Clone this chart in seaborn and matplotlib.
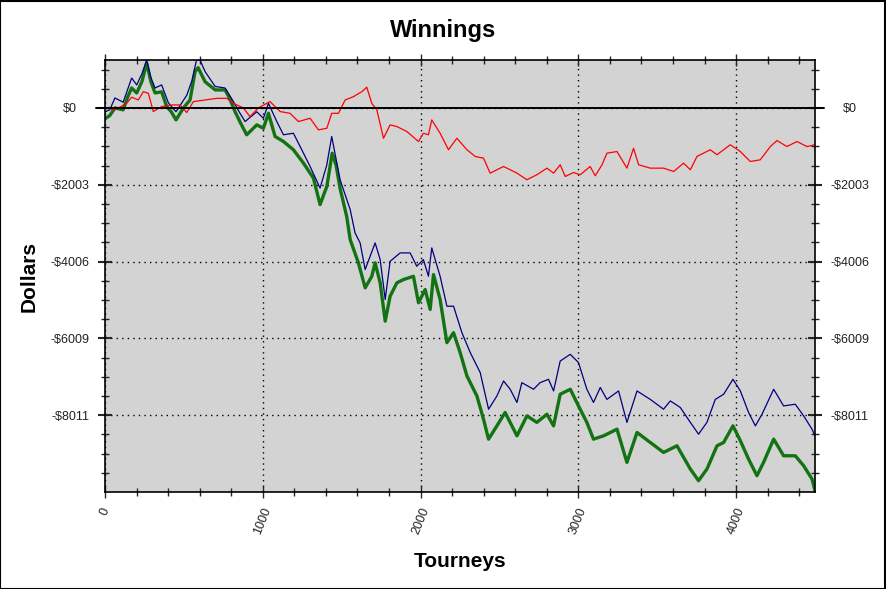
import numpy as np
import pandas as pd
import matplotlib
matplotlib.use("Agg")
import matplotlib.pyplot as plt
import seaborn as sns
from matplotlib.ticker import FixedLocator, MultipleLocator
from matplotlib.patches import Rectangle

# winnings curves (tourney number, dollars)
green_t = [0, 30, 63, 115, 145, 169, 201, 235, 264, 290, 317, 359, 391, 420, 450, 497, 539, 571, 590,
           634, 698, 761, 790, 824, 860, 898, 962, 1004, 1036, 1078, 1131, 1194, 1258, 1321, 1363, 1406,
           1440, 1465, 1490, 1532, 1554, 1606, 1649, 1691, 1712, 1744, 1776, 1807, 1850, 1892, 1955, 1987,
           2029, 2061, 2082, 2124, 2167, 2209, 2251, 2294, 2357, 2399, 2431, 2484, 2536, 2611, 2674, 2737,
           2801, 2843, 2885, 2949, 3001, 3054, 3096, 3160, 3245, 3308, 3372, 3456, 3540, 3625, 3710, 3762,
           3815, 3879, 3921, 3980, 4027, 4079, 4132, 4174, 4238, 4301, 4375, 4428, 4481, 4500]
green_usd = [-280, -200, 0, -50, 300, 520, 390, 700, 1170, 700, 390, 420, 35, -100, -312, 0, 208, 945, 1050,
             685, 470, 470, 250, -95, -400, -700, -442, -530, -140, -745, -875, -1090, -1440, -1830, -2520, -2047,
             -1180, -1500, -2100, -2830, -3434, -4040, -4690, -4390, -4040, -4560, -5560, -4910, -4560, -4475, -4390, -5080,
             -4735, -5255, -4345, -4995, -6120, -5860, -6380, -6990, -7510, -8116, -8637, -8290, -7942, -8550, -8030, -8200,
             -7987, -8290, -7466, -7336, -7770, -8200, -8637, -8550, -8377, -9243, -8463, -8723, -8983, -8810, -9417, -9720,
             -9417, -8810, -8723, -8290, -8680, -9157, -9590, -9243, -8637, -9070, -9070, -9330, -9677, -9980]

blue_t = [0, 30, 63, 115, 145, 169, 201, 235, 264, 290, 317, 359, 402, 450, 518, 550, 580, 602, 634, 698,
          761, 814, 850, 888, 962, 1004, 1036, 1089, 1131, 1194, 1236, 1300, 1363, 1405, 1437, 1490, 1554,
          1585, 1617, 1649, 1712, 1744, 1776, 1807, 1871, 1934, 1976, 2018, 2050, 2071, 2124, 2167, 2209,
          2262, 2315, 2378, 2431, 2484, 2526, 2568, 2611, 2642, 2716, 2758, 2811, 2843, 2885, 2949, 3001,
          3054, 3096, 3139, 3181, 3255, 3308, 3372, 3456, 3540, 3583, 3646, 3710, 3762, 3815, 3868, 3921,
          3980, 4027, 4079, 4122, 4164, 4238, 4301, 4375, 4428, 4481, 4500]
blue_usd = [-100, -50, 260, 150, 500, 780, 600, 900, 1250, 800, 520, 600, 130, -100, 330, 700, 1250, 1250, 950, 560,
            520, 165, -100, -355, -100, -270, 120, -355, -700, -660, -1000, -1527, -2090, -1500, -745, -1873, -2650,
            -3260, -3520, -4215, -3520, -3954, -4995, -4000, -3780, -3780, -4128, -3954, -4390, -3650, -4390, -5170, -5170,
            -5860, -6380, -6900, -7856, -7510, -7120, -7336, -7680, -7163, -7336, -7163, -7076, -7380, -6600, -6425, -6640,
            -7336, -7680, -7290, -7600, -7380, -8200, -7380, -7600, -7856, -7640, -7810, -8200, -8507, -8200, -7600, -7466,
            -7076, -7380, -7942, -8290, -7987, -7336, -7770, -7726, -8030, -8377, -8550]

red_t = [0, 63, 137, 169, 211, 243, 275, 306, 359, 423, 476, 518, 560, 634, 708, 772, 814, 877, 919, 972,
         1046, 1110, 1173, 1226, 1300, 1353, 1406, 1437, 1480, 1522, 1575, 1628, 1659, 1691, 1723, 1765, 1807,
         1850, 1913, 1987, 2018, 2050, 2071, 2124, 2177, 2230, 2294, 2346, 2399, 2441, 2526, 2611, 2674, 2737,
         2801, 2843, 2885, 2917, 2970, 3012, 3075, 3107, 3150, 3181, 3245, 3308, 3350, 3382, 3456, 3540, 3604,
         3667, 3710, 3752, 3836, 3879, 3963, 4027, 4090, 4153, 4217, 4259, 4322, 4386, 4449, 4500]
red_usd = [0, -50, 120, 280, 208, 425, 380, -95, 35, 78, 78, -120, 165, 208, 250, 250, 120, 0, -226, 0,
           165, -95, -140, -355, -270, -572, -530, -140, -140, 208, 295, 425, 540, 120, -52, -790, -442,
           -485, -615, -875, -660, -700, -312, -660, -1090, -790, -1090, -1265, -1310, -1700, -1527, -1700, -1873, -1743,
           -1570, -1700, -1483, -1787, -1683, -1743, -1527, -1770, -1483, -1180, -1137, -1570, -1050, -1483, -1570, -1570, -1657,
           -1440, -1613, -1265, -1090, -1220, -960, -1137, -1397, -1353, -1007, -850, -1007, -875, -1007, -960]

y_ticks = [0, -2003, -4006, -6009, -8011]
y_labels = ["$0", "-$2003", "-$4006", "-$6009", "-$8011"]
x_ticks = [0, 1000, 2000, 3000, 4000]

sns.set_style("ticks")
plt.rcParams["font.family"] = ["Liberation Sans", "DejaVu Sans"]

fig = plt.figure(figsize=(8.86, 5.89), dpi=100)
ax = fig.add_axes([105 / 886, 1 - 492 / 589, 710 / 886, 432 / 589])
ax.set_facecolor("#D3D3D3")

sns.lineplot(x=green_t, y=green_usd, color="#137313", linewidth=2.4, ax=ax)
sns.lineplot(x=blue_t, y=blue_usd, color="#000080", linewidth=0.9, ax=ax)
sns.lineplot(x=red_t, y=red_usd, color="#FF0000", linewidth=0.9, ax=ax)

ax.set_xlim(0, 4500)
ax.set_ylim(-10015, 1250)

# zero line sticks out a bit past both spines
ax.axhline(0, xmin=-0.012, xmax=1.012, color="black", linewidth=1.4, clip_on=False, zorder=5)

ax.xaxis.set_major_locator(FixedLocator(x_ticks))
ax.xaxis.set_minor_locator(MultipleLocator(200))
ax.yaxis.set_major_locator(FixedLocator(y_ticks))
minor_y = [k * 500.75 for k in range(-20, 3) if k % 4 != 0]
ax.yaxis.set_minor_locator(FixedLocator(minor_y))
ax.set_xticklabels([str(t) for t in x_ticks], rotation=68, fontsize=9, color="#222222")
ax.set_yticklabels(y_labels, fontsize=9, color="#222222")

ax.grid(True, which="major", color="black", linestyle=(0, (1, 3)), linewidth=1)

ax.tick_params(axis="y", which="major", direction="inout", length=10, width=1.5,
               left=True, right=True, labelleft=True, labelright=True, pad=20)
ax.tick_params(axis="y", which="minor", direction="inout", length=6, width=1, left=True, right=True)
ax.tick_params(axis="x", which="major", direction="inout", length=8, width=1, top=True, bottom=True, pad=6)
ax.tick_params(axis="x", which="minor", direction="inout", length=6, width=1, top=True, bottom=True)
for t in ax.yaxis.get_major_ticks():
    t.label1.set_horizontalalignment("center")
    t.label2.set_horizontalalignment("center")

for s in ax.spines.values():
    s.set_color("black")
    s.set_linewidth(1.2)

ax.set_xlabel("Tourneys", fontsize=15, fontweight="bold", labelpad=11, color="black")
ax.set_ylabel("Dollars", fontsize=15, fontweight="bold", labelpad=9, color="black")
fig.suptitle("Winnings", fontsize=17, fontweight="bold", x=0.5, y=1 - 30 / 589, va="center", color="black")

fig.patches.append(Rectangle((0.0005, 0.0008), 0.998, 0.998, transform=fig.transFigure,
                             fill=False, edgecolor="black", linewidth=1.5))

fig.savefig("out.png", dpi=100, facecolor="white")
